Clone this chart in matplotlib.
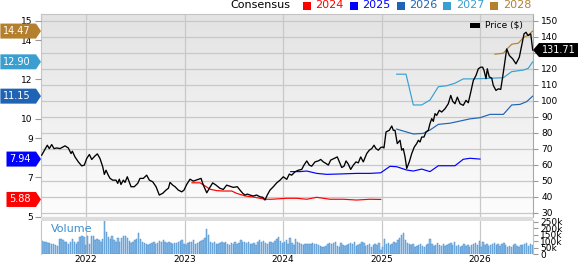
import matplotlib
matplotlib.use("Agg")
import matplotlib.pyplot as plt
import numpy as np
from matplotlib.patches import Polygon, Rectangle
from matplotlib.colors import LinearSegmentedColormap

W, H, DPI = 579, 264, 100

# ---- data (decimal years) ----
price_t = [2021.550, 2021.607, 2021.627, 2021.652, 2021.675, 2021.703, 2021.736, 2021.787, 2021.820, 2021.848,
           2021.861, 2021.888, 2021.922, 2021.956, 2021.983, 2022.007, 2022.034, 2022.058, 2022.091, 2022.115,
           2022.142, 2022.170, 2022.186, 2022.203, 2022.226, 2022.244, 2022.271, 2022.305, 2022.322, 2022.338,
           2022.355, 2022.379, 2022.396, 2022.419, 2022.440, 2022.457, 2022.490, 2022.525, 2022.548, 2022.582,
           2022.616, 2022.643, 2022.677, 2022.711, 2022.744, 2022.779, 2022.812, 2022.836, 2022.853, 2022.880,
           2022.904, 2022.937, 2022.972, 2022.995, 2023.022, 2023.056, 2023.089, 2023.140, 2023.168, 2023.191,
           2023.226, 2023.252, 2023.286, 2023.320, 2023.360, 2023.394, 2023.428, 2023.455, 2023.495, 2023.536,
           2023.563, 2023.591, 2023.614, 2023.638, 2023.665, 2023.698, 2023.733, 2023.766, 2023.794, 2023.817,
           2023.840, 2023.868, 2023.902, 2023.936, 2023.970, 2024.003, 2024.038, 2024.064, 2024.088, 2024.122,
           2024.155, 2024.190, 2024.213, 2024.241, 2024.267, 2024.291, 2024.325, 2024.358, 2024.383, 2024.409,
           2024.437, 2024.460, 2024.484, 2024.518, 2024.551, 2024.572, 2024.596, 2024.619, 2024.640, 2024.663,
           2024.687, 2024.714, 2024.741, 2024.764, 2024.789, 2024.815, 2024.850, 2024.876, 2024.901, 2024.924,
           2024.944, 2024.968, 2024.992, 2025.012, 2025.025, 2025.046, 2025.079, 2025.104, 2025.120, 2025.137,
           2025.160, 2025.188, 2025.205, 2025.221, 2025.239, 2025.256, 2025.282, 2025.307, 2025.333, 2025.357,
           2025.374, 2025.391, 2025.408, 2025.431, 2025.452, 2025.475, 2025.492, 2025.510, 2025.526, 2025.543,
           2025.560, 2025.587, 2025.611, 2025.645, 2025.678, 2025.703, 2025.723, 2025.746, 2025.770, 2025.797,
           2025.830, 2025.858, 2025.881, 2025.906, 2025.932, 2025.959, 2025.983, 2026.007, 2026.027, 2026.041,
           2026.061, 2026.074, 2026.094, 2026.119, 2026.135, 2026.162, 2026.186, 2026.210, 2026.230, 2026.254,
           2026.271, 2026.298, 2026.332, 2026.365, 2026.399, 2026.423, 2026.447, 2026.467, 2026.488, 2026.515,
           2026.535]
price_v = [66.1, 72.3, 70.2, 72.7, 70.2, 70.6, 70.2, 71.9, 70.6, 67.1,
           68.6, 65.0, 61.9, 59.4, 59.9, 64.0, 66.5, 63.4, 65.6, 66.9,
           64.0, 58.8, 54.1, 56.7, 53.6, 51.6, 50.5, 50.5, 48.5, 51.1,
           47.8, 50.5, 49.1, 52.6, 49.1, 46.4, 46.4, 48.5, 51.6, 51.6,
           53.6, 50.5, 49.5, 46.4, 41.2, 42.3, 44.3, 45.4, 49.1, 47.4,
           46.4, 44.3, 43.2, 44.3, 47.8, 51.1, 49.9, 51.0, 51.6, 47.4,
           42.6, 45.4, 48.8, 47.4, 45.4, 44.7, 47.4, 46.8, 46.0, 46.4,
           44.3, 42.3, 41.2, 41.8, 41.2, 40.6, 41.2, 40.1, 39.8, 38.1,
           41.2, 44.3, 46.4, 48.8, 50.5, 52.6, 51.0, 54.3, 53.6, 55.7,
           56.7, 57.2, 59.9, 62.5, 59.9, 59.2, 61.9, 62.5, 63.4, 61.9,
           60.9, 59.9, 63.0, 64.0, 65.0, 61.9, 58.4, 59.2, 62.5, 60.5,
           57.2, 59.9, 61.9, 61.3, 65.0, 61.9, 67.1, 69.2, 70.2, 72.3,
           70.2, 69.2, 70.9, 71.2, 70.6, 80.6, 81.6, 84.3, 81.6, 81.6,
           73.3, 75.4, 69.2, 70.2, 65.0, 57.8, 61.9, 67.1, 71.2, 73.3,
           75.4, 74.3, 77.4, 77.4, 80.6, 81.6, 85.8, 88.9, 87.2, 92.0,
           90.9, 94.1, 93.0, 95.1, 98.2, 103.4, 99.7, 98.2, 102.3, 98.2,
           97.2, 100.3, 98.8, 105.4, 112.7, 115.8, 120.0, 121.0, 121.0, 118.9,
           113.8, 120.0, 114.9, 114.2, 109.6, 106.5, 107.5, 107.1, 114.9, 125.1,
           132.4, 128.3, 126.2, 123.1, 127.2, 134.5, 141.8, 142.8, 140.7, 141.8,
           131.71]

eps24_t = [2023.076, 2023.157, 2023.208, 2023.259, 2023.327, 2023.394, 2023.479, 2023.530, 2023.614, 2023.716,
           2023.817, 2023.885, 2024.038, 2024.139, 2024.241, 2024.342, 2024.477, 2024.612, 2024.748, 2024.883, 2024.992]
eps24_v = [6.73, 6.73, 6.57, 6.40, 6.33, 6.31, 6.31, 6.19, 6.06, 5.99,
           5.89, 5.89, 5.94, 5.94, 5.89, 5.99, 5.89, 5.89, 5.85, 5.89, 5.88]
eps25_t = [2024.078, 2024.173, 2024.241, 2024.342, 2024.444, 2024.579, 2024.748, 2024.883, 2024.992, 2025.086,
           2025.154, 2025.256, 2025.323, 2025.408, 2025.492, 2025.577, 2025.746, 2025.830, 2025.898, 2026.000]
eps25_v = [7.30, 7.30, 7.33, 7.21, 7.16, 7.18, 7.21, 7.21, 7.24, 7.57,
           7.55, 7.38, 7.33, 7.43, 7.30, 7.60, 7.60, 7.93, 7.98, 7.94]
eps26_t = [2025.154, 2025.323, 2025.424, 2025.492, 2025.577, 2025.695, 2025.797, 2025.898, 2026.000, 2026.102,
           2026.237, 2026.322, 2026.406, 2026.474, 2026.535]
eps26_v = [9.47, 9.22, 9.25, 9.42, 9.71, 9.77, 9.88, 9.99, 10.05, 10.22,
           10.22, 10.70, 10.73, 10.87, 11.15]
eps27_t = [2025.154, 2025.249, 2025.323, 2025.408, 2025.492, 2025.577, 2025.662, 2025.746, 2025.830, 2025.932,
           2026.102, 2026.237, 2026.322, 2026.440, 2026.490, 2026.535]
eps27_v = [12.27, 12.27, 10.70, 10.70, 10.95, 11.63, 11.68, 11.81, 12.03, 12.03,
           12.06, 12.09, 12.40, 12.48, 12.57, 12.90]
eps28_t = [2026.152, 2026.237, 2026.287, 2026.322, 2026.389, 2026.440, 2026.490, 2026.535]
eps28_v = [13.29, 13.34, 13.62, 13.80, 13.85, 14.13, 14.27, 14.47]

# weekly volume, thousands of shares
volume_k = [101, 96, 91, 86, 83, 81, 75, 70, 65, 114, 114, 107, 96, 96, 81, 96, 114, 96, 81, 96,
            135, 140, 135, 70, 143, 75, 140, 140, 109, 117, 109, 96, 114, 257, 174, 135, 117, 143, 109, 96,
            122, 91, 122, 143, 143, 127, 101, 83, 96, 107, 117, 161, 117, 96, 83, 75, 70, 81, 83, 91,
            75, 83, 101, 91, 109, 91, 83, 96, 88, 75, 83, 83, 96, 101, 109, 75, 70, 83, 91, 96,
            109, 75, 83, 91, 101, 109, 122, 195, 148, 91, 83, 96, 75, 81, 83, 91, 83, 96, 75, 70,
            83, 75, 91, 81, 83, 109, 96, 91, 83, 96, 81, 75, 83, 70, 91, 109, 96, 101, 83, 75,
            96, 91, 83, 101, 117, 135, 101, 83, 96, 109, 75, 122, 83, 70, 117, 96, 83, 75, 70, 75,
            75, 78, 75, 83, 78, 75, 70, 65, 57, 57, 65, 75, 83, 75, 83, 96, 65, 57, 83, 70,
            65, 70, 75, 83, 75, 96, 65, 70, 75, 91, 83, 65, 70, 75, 57, 70, 75, 70, 83, 31,
            57, 117, 75, 83, 70, 75, 96, 83, 109, 122, 148, 161, 109, 83, 75, 70, 75, 57, 65, 70,
            75, 65, 57, 70, 75, 117, 75, 65, 70, 83, 70, 65, 75, 65, 70, 75, 83, 70, 96, 65,
            70, 57, 65, 75, 65, 70, 57, 70, 75, 83, 70, 101, 57, 91, 70, 75, 65, 70, 75, 83,
            70, 75, 65, 75, 83, 70, 57, 65, 57, 70, 75, 65, 57, 70, 70, 75, 83, 65, 75, 70]
vol_span = (2021.555, 2026.530)

x_range = (2021.543, 2026.538)
year_ticks = [2022, 2023, 2024, 2025, 2026]
price_ticks = [30, 40, 50, 60, 70, 80, 90, 100, 110, 120, 130, 140, 150]
eps_ticks = [5, 7, 9, 10, 12, 14, 15]
vol_ticks = [0, 50, 100, 150, 200, 250]

series = [("2024", eps24_t, eps24_v, "#ff0000"),
          ("2025", eps25_t, eps25_v, "#0000ff"),
          ("2026", eps26_t, eps26_v, "#1f64b4"),
          ("2027", eps27_t, eps27_v, "#3a9fd0"),
          ("2028", eps28_t, eps28_v, "#b5802e")]

GRID = "#c8c8c8"


def fx(x):
    return x / W


def fy(y):
    return 1 - y / H


fig = plt.figure(figsize=(W / DPI, H / DPI), dpi=DPI)
fig.patch.set_facecolor("white")

# ---- main panel: background + grid + price axis (right) ----
ax_bg = fig.add_axes([fx(41), fy(217), (533 - 41) / W, (217 - 14) / H])
bg_cmap = LinearSegmentedColormap.from_list("bg", ["#e3e3e3", "#fdfdfd"])
ax_bg.imshow(np.linspace(0, 1, 256).reshape(-1, 1), cmap=bg_cmap, aspect="auto",
             extent=[0, 1, 0, 1], transform=ax_bg.transAxes, zorder=0)

ax_eps = ax_bg.twinx()
ax_price = ax_bg.twinx()

ax_bg.set_xlim(*x_range)
ax_bg.set_ylim(27.5, 154.2)
ax_bg.set_xticks(year_ticks)
ax_bg.set_yticks(price_ticks)
ax_bg.grid(True, color=GRID, lw=0.9)
ax_bg.set_axisbelow(True)
ax_bg.yaxis.tick_right()
ax_bg.tick_params(axis="x", length=0, labelbottom=False)
ax_bg.tick_params(axis="y", length=3.5, pad=2.5, labelsize=6.5, color="#999999")
for s in ax_bg.spines.values():
    s.set_color("#c4c4c4")
    s.set_linewidth(0.8)
ax_bg.spines["right"].set_color("#a8a8a8")

ax_eps.set_ylim(4.985, 15.34)
ax_eps.set_yticks(eps_ticks)
ax_eps.yaxis.tick_left()
ax_eps.tick_params(axis="y", length=4, pad=2, labelsize=6.5, color="#999999")
for s in ax_eps.spines.values():
    s.set_visible(False)
for name, t, v, c in series:
    ax_eps.plot(t, v, color=c, lw=0.85)

ax_price.set_ylim(ax_bg.get_ylim())
ax_price.set_yticks([])
ax_price.tick_params(axis="y", left=False, right=False, labelleft=False, labelright=False)
for s in ax_price.spines.values():
    s.set_visible(False)
ax_price.plot(price_t, price_v, color="black", lw=0.95)
ax_price.set_xlim(*x_range)

# ---- volume panel ----
ax_v = fig.add_axes([fx(41), fy(254), (533 - 41) / W, (254 - 220) / H], sharex=ax_bg)
vol_x = np.linspace(vol_span[0], vol_span[1], len(volume_k))
step = vol_x[1] - vol_x[0]
ax_v.bar(vol_x, volume_k, width=step * 0.75, color="#8cbde6", edgecolor="#4a8fd0", linewidth=0.35, zorder=2)
ax_v.set_ylim(0, 265)
ax_v.set_yticks(vol_ticks)
ax_v.set_yticklabels([f"{v}k" if v else "0" for v in vol_ticks])
ax_v.yaxis.tick_right()
ax_v.tick_params(axis="y", length=3.5, pad=1.5, labelsize=6.5, color="#999999")
ax_v.tick_params(axis="x", length=0, pad=1, labelsize=6.5)
ax_v.set_xticks(year_ticks)
ax_v.set_xticklabels([str(y) for y in year_ticks])
ax_v.grid(True, axis="x", color=GRID, lw=0.9)
ax_v.set_axisbelow(True)
for s in ("top", "bottom"):
    ax_v.spines[s].set_visible(False)
for s in ("left", "right"):
    ax_v.spines[s].set_color("#c4c4c4")
    ax_v.spines[s].set_linewidth(0.8)
ax_v.set_xlim(*x_range)
fig.text(fx(51), fy(229), "Volume", color="#3d8fd0", fontsize=8, ha="left", va="center")

# separator band between panels
fig.add_artist(Rectangle((fx(41), fy(220.5)), (533 - 41) / W, 3.5 / H, transform=fig.transFigure,
                         facecolor="#dddddd", edgecolor="none"))

# ---- header legend ----
fig.text(fx(230), fy(5.5), "Consensus", fontsize=8, ha="left", va="center", color="black")
for i, (name, t, v, c) in enumerate(series):
    x0 = 303 + i * 46.8
    fig.add_artist(Rectangle((fx(x0), fy(9.5)), 8 / W, 8 / H, transform=fig.transFigure,
                             facecolor=c, edgecolor="none"))
    fig.text(fx(x0 + 12.5), fy(5.5), name, fontsize=8, ha="left", va="center", color=c)

fig.add_artist(Rectangle((fx(470), fy(27.5)), 10 / W, 4.5 / H, transform=fig.transFigure,
                         facecolor="black", edgecolor="none"))
fig.text(fx(485), fy(25), "Price ($)", fontsize=6.5, ha="left", va="center", color="black")

# ---- value tags ----
fig.canvas.draw()
renderer = fig.canvas.get_renderer()


def left_tag(value, color):
    y = H - ax_eps.transData.transform((x_range[0], value))[1]
    txt = fig.text(fx(31), fy(y), f"{value:.2f}", color="white", fontsize=7, ha="right", va="center", zorder=6)
    bb = txt.get_window_extent(renderer)
    left = bb.x0 - 3
    pts = [(left, y - 7.5), (36, y - 7.5), (41, y), (36, y + 7.5), (left, y + 7.5)]
    fig.add_artist(Polygon([(fx(a), fy(b)) for a, b in pts], closed=True, transform=fig.transFigure,
                           facecolor=color, edgecolor="none", zorder=5))


for name, t, v, c in series:
    left_tag(v[-1], c)

last_price = price_v[-1]
yp = H - ax_price.transData.transform((x_range[1], last_price))[1]
pts = [(533, yp), (539, yp - 7), (578, yp - 7), (578, yp + 7), (539, yp + 7)]
fig.add_artist(Polygon([(fx(a), fy(b)) for a, b in pts], closed=True, transform=fig.transFigure,
                       facecolor="black", edgecolor="none", zorder=5))
fig.text(fx(558.5), fy(yp), f"{last_price:.2f}", color="white", fontsize=7, ha="center", va="center", zorder=6)

fig.savefig("out.png", dpi=DPI)
